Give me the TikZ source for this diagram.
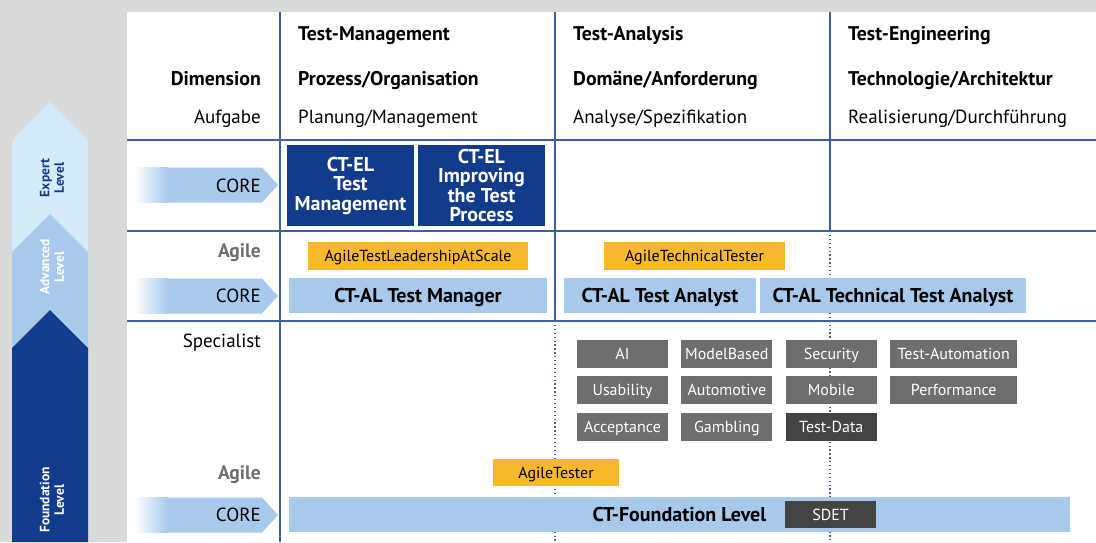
\documentclass[tikz,border=0pt]{standalone}
\usepackage{fontspec}
\setmainfont{PT Sans}
\usetikzlibrary{positioning}

\definecolor{panelgray}{HTML}{D9DADA}
\definecolor{gridblue}{HTML}{3D5FA3}
\definecolor{expertblue}{HTML}{D5EBFA}
\definecolor{lightblue}{HTML}{A6C9EC}
\definecolor{darkblue}{HTML}{133B8B}
\definecolor{agileorange}{HTML}{F7B92B}
\definecolor{specgray}{HTML}{6D6E70}
\definecolor{darkgray}{HTML}{434545}
\definecolor{agilegray}{HTML}{6E6E6E}

\tikzset{
x=1pt, y=-1pt, % one unit = one pixel, y grows downwards
gridline/.style={draw=gridblue, line width=1.3pt},
dotline/.style={draw=gridblue, line width=1.3pt, dash pattern=on 1.3pt off 2.6pt},
head/.style={anchor=base west, inner sep=0pt, font=\bfseries\fontsize{19.8}{22}\selectfont},
task/.style={anchor=base west, inner sep=0pt, font=\fontsize{19}{22}\selectfont},
rowlabel/.style={anchor=base east, inner sep=0pt, font=\fontsize{19}{22}\selectfont},
agilelabel/.style={rowlabel, text=agilegray, font=\bfseries\fontsize{19.5}{22}\selectfont},
levelname/.style={rotate=90, align=center, inner sep=0pt, font=\bfseries\fontsize{13.5}{14.5}\selectfont},
expertbox/.style={fill=darkblue, text=white, align=center, inner sep=0pt, minimum width=127pt, minimum height=81pt, font=\bfseries\fontsize{20}{19.5}\selectfont},
corebox/.style={fill=lightblue, inner sep=0pt, minimum height=35pt, text height=13.5pt, text depth=0pt, font=\bfseries\fontsize{20}{22}\selectfont},
agilebox/.style={fill=agileorange, inner sep=0pt, minimum height=28pt, text height=11pt, text depth=0pt, font=\fontsize{16}{18}\selectfont},
specbox/.style={fill=specgray, text=white, inner sep=0pt, minimum width=91pt, minimum height=28pt, text height=11pt, text depth=0pt, font=\fontsize{16}{18}\selectfont},
}

\begin{document}
\begin{tikzpicture}
\useasboundingbox (0,0) rectangle (1096,542);
\fill[panelgray] (0,0) rectangle (1096,542);
\fill[white] (127,12) rectangle (1096,542);

% level arrows on the left
\fill[expertblue] (12,140) -- (50,102) -- (88,140) -- (88,542) -- (12,542) -- cycle;
\fill[lightblue] (12,252) -- (50,214) -- (88,252) -- (88,542) -- (12,542) -- cycle;
\fill[darkblue] (12,348) -- (50,310) -- (88,348) -- (88,542) -- (12,542) -- cycle;
\node[levelname, text=darkblue] (expert) at (52,178) {Expert\\Level};
\node[levelname, text=white] (advanced) at (52,267) {Advanced\\Level};
\node[levelname, text=white] (foundation) at (52,500) {Foundation\\Level};

% table grid
\draw[gridline] (127,140) -- (1096,140);
\draw[gridline] (127,231) -- (1096,231);
\draw[gridline] (127,321) -- (1096,321);
\draw[gridline] (280,12) -- (280,542);
\draw[gridline] (555,12) -- (555,321);
\draw[gridline] (830,12) -- (830,231);
\draw[dotline] (555,321) -- (555,542);
\draw[dotline] (830,231) -- (830,542);

% header
\node[head] (dim) at (261,85) [anchor=base east] {Dimension};
\node[task] (task) at (261,123) [anchor=base east] {Aufgabe};
\node[head] (tm) at (298,40) {Test-Management};
\node[head] (ta) at (573,40) {Test-Analysis};
\node[head] (te) at (848,40) {Test-Engineering};
\node[head] (tmdim) at (298,85) {Prozess/Organisation};
\node[head] (tadim) at (573,85) {Domäne/Anforderung};
\node[head] (tedim) at (848,85) {Technologie/Architektur};
\node[task] (tmtask) at (298,123) {Planung/Management};
\node[task] (tatask) at (573,123) {Analyse/Spezifikation};
\node[task] (tetask) at (848,123) {Realisierung/Durchführung};

% CORE arrows
\foreach \y in {185,296,515} {
  \shade[left color=white, right color=lightblue] (135,\y-17.5) rectangle (168,\y+17.5);
  \fill[lightblue] (167.5,\y-17.5) -- (262,\y-17.5) -- (278,\y) -- (262,\y+17.5) -- (167.5,\y+17.5) -- cycle;
}
\node[rowlabel, anchor=east] (core1) at (261,185.5) {CORE};
\node[rowlabel, anchor=east] (core2) at (261,296) {CORE};
\node[rowlabel, anchor=east] (core3) at (261,514.5) {CORE};
\node[agilelabel] (agile1) at (261,257) {Agile};
\node[rowlabel] (spec) at (261,347) {Specialist};
\node[agilelabel] (agile2) at (261,479) {Agile};

% expert level
\node[expertbox] (eltm) at (350.5,185.5) {CT-EL\\Test\\Management};
\node[expertbox] (elitp) at (481.5,185.5) {CT-EL\\Improving\\the Test\\Process};

% advanced level
\node[agilebox, minimum width=220pt] (atlas) at (418,256) {AgileTestLeadershipAtScale};
\node[agilebox, minimum width=181pt] (att) at (694.5,256) {AgileTechnicalTester};
\node[corebox, minimum width=258pt] (altm) at (418,295.5) {CT-AL Test Manager};
\node[corebox, minimum width=192pt] (alta) at (660,295.5) {CT-AL Test Analyst};
\node[corebox, minimum width=266pt] (altta) at (893,295.5) {CT-AL Technical Test Analyst};

% specialist modules
\node[specbox] (ai) at (622.5,354) {AI};
\node[specbox, right=13pt of ai] (modelbased) {ModelBased};
\node[specbox, right=13pt of modelbased] (security) {Security};
\node[specbox, right=13pt of security, minimum width=127pt] (testauto) {Test-Automation};
\node[specbox, below=8pt of ai] (usability) {Usability};
\node[specbox, right=13pt of usability] (automotive) {Automotive};
\node[specbox, right=13pt of automotive] (mobile) {Mobile};
\node[specbox, right=13pt of mobile, minimum width=127pt] (performance) {Performance};
\node[specbox, below=8pt of usability] (acceptance) {Acceptance};
\node[specbox, right=13pt of acceptance] (gambling) {Gambling};
\node[specbox, right=13pt of gambling, fill=darkgray] (testdata) {Test-Data};

% foundation level
\node[agilebox, minimum width=126pt, minimum height=27pt] (agiletester) at (556,472.5) {AgileTester};
\node[corebox, minimum width=781pt] (ctfl) at (679.5,514.5) {CT-Foundation Level};
\node[specbox, fill=darkgray, minimum height=27pt] (sdet) at (830.5,514.5) {SDET};
\end{tikzpicture}
\end{document}
